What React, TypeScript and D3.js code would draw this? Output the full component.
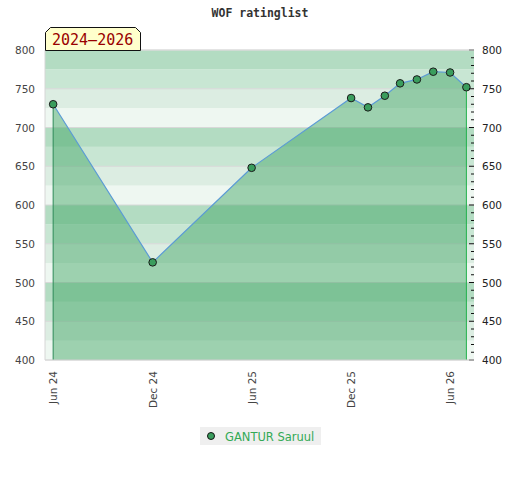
import * as d3 from "d3";
import React from "react";

const months = ["2024-06", "2024-12", "2025-06", "2025-12", "2026-01", "2026-02", "2026-03", "2026-04", "2026-05", "2026-06", "2026-07"];
const ratings = [730, 526, 648, 738, 726, 741, 757, 762, 772, 771, 752];
const xTickMonths = ["2024-06", "2024-12", "2025-06", "2025-12", "2026-06"];
const yTicks = [400, 450, 500, 550, 600, 650, 700, 750, 800];
const playerName = "GANTUR Saruul";
const periodLabel = "2024\u20132026";
const title = "WOF ratinglist";

const bandColors = ["#b3dcc2", "#c8e6d3", "#dcede2", "#eef7f1"];

const parse = d3.timeParse("%Y-%m");
const fmt = d3.timeFormat("%b %y");

export default function App() {
    const W = 520, H = 480;
    const margin = { top: 50, right: 46, bottom: 120, left: 45 };
    const innerW = W - margin.left - margin.right;
    const innerH = H - margin.top - margin.bottom;

    const x = d3.scaleTime()
        .domain([new Date(2024, 4, 17), new Date(2026, 6, 15)])
        .range([0, innerW]);
    const y = d3.scaleLinear().domain([400, 800]).range([innerH, 0]);

    const pts = months.map((m, i) => ({ d: parse(m) as Date, v: ratings[i] }));

    const area = d3.area<any>()
        .x(p => x(p.d))
        .y0(innerH)
        .y1(p => y(p.v));
    const line = d3.line<any>()
        .x(p => x(p.d))
        .y(p => y(p.v));

    // 25 point bands, darkest at the top of every hundred
    const bands = d3.range(400, 800, 25).map(lo => ({ lo, hi: lo + 25, c: bandColors[3 - ((lo % 100) / 25)] }));
    const minor = d3.range(400, 801, 10);
    const first = pts[0], last = pts[pts.length - 1];

    return (
        <svg width={W} height={H} style={{ position: "absolute", left: 0, top: 0, background: "#fff" }}>
            <text x={W / 2} y={17} textAnchor="middle" fontFamily="DejaVu Sans Mono" fontWeight="bold" fontSize={11.5} fill="#333">{title}</text>
            <g transform={`translate(${margin.left},${margin.top})`}>
                {bands.map(b => (
                    <rect key={b.lo} x={0} y={y(b.hi)} width={innerW} height={y(b.lo) - y(b.hi)} fill={b.c} />
                ))}
                {yTicks.map(t => (
                    <line key={t} x1={0} x2={innerW} y1={y(t)} y2={y(t)} stroke="#d8d8d8" strokeWidth={1} />
                ))}
                <line x1={0} x2={0} y1={0} y2={innerH} stroke="#d6d6d6" />
                <path d={area(pts) || ""} fill="rgb(61,164,98)" fillOpacity={0.46} />
                <line x1={x(first.d)} x2={x(first.d)} y1={y(first.v)} y2={innerH} stroke="#2e8b57" />
                <line x1={x(last.d)} x2={x(last.d)} y1={y(last.v)} y2={innerH} stroke="#22b14c" />
                <path d={line(pts) || ""} fill="none" stroke="#5b9bd5" strokeWidth={1.2} />
                {pts.map((p, i) => (
                    <circle key={i} cx={x(p.d)} cy={y(p.v)} r={3.8} fill="#3a9d5d" stroke="#1a1a1a" strokeWidth={1} />
                ))}
                {/* right axis ticks */}
                {minor.map(t => (
                    <line key={t} x1={innerW - (t % 50 === 0 ? 5 : 3)} x2={innerW} y1={y(t)} y2={y(t)} stroke="#111" />
                ))}
                {yTicks.map(t => (
                    <text key={"l" + t} x={-10} y={y(t) + 4} textAnchor="end" fontFamily="DejaVu Sans" fontSize={10.5} fill="#444">{t}</text>
                ))}
                {yTicks.map(t => (
                    <text key={"r" + t} x={innerW + 8} y={y(t) + 4} textAnchor="start" fontFamily="DejaVu Sans" fontSize={10.5} fill="#222">{t}</text>
                ))}
                <line x1={0} x2={innerW} y1={innerH} y2={innerH} stroke="#d6d6d6" />
                <line x1={0} x2={innerW} y1={0} y2={0} stroke="#dcdcdc" />
                {xTickMonths.map(m => {
                    const d = parse(m) as Date;
                    return (
                        <text key={m} transform={`translate(${x(d) + 4},${innerH + 11}) rotate(-90)`} textAnchor="end" fontFamily="DejaVu Sans" fontSize={10.5} fill="#444">{fmt(d)}</text>
                    );
                })}
            </g>
            {/* period tag */}
            <path d="M45.5,50.5 L45.5,32.5 L50.5,27.5 L135.5,27.5 L140.5,32.5 L140.5,50.5 Z" fill="#ffffcc" stroke="#111" strokeWidth={1} />
            <text x={52} y={45} fontFamily="DejaVu Sans Mono" fontSize={15} fill="#990000">{periodLabel}</text>
            {/* legend */}
            <rect x={200} y={427} width={121} height={18} fill="#efefef" />
            <circle cx={211} cy={436} r={3.5} fill="#3a9d5d" stroke="#111" />
            <text x={225} y={440.5} fontFamily="DejaVu Sans" fontSize={11.5} fill="#33aa55">{playerName}</text>
        </svg>
    );
}
